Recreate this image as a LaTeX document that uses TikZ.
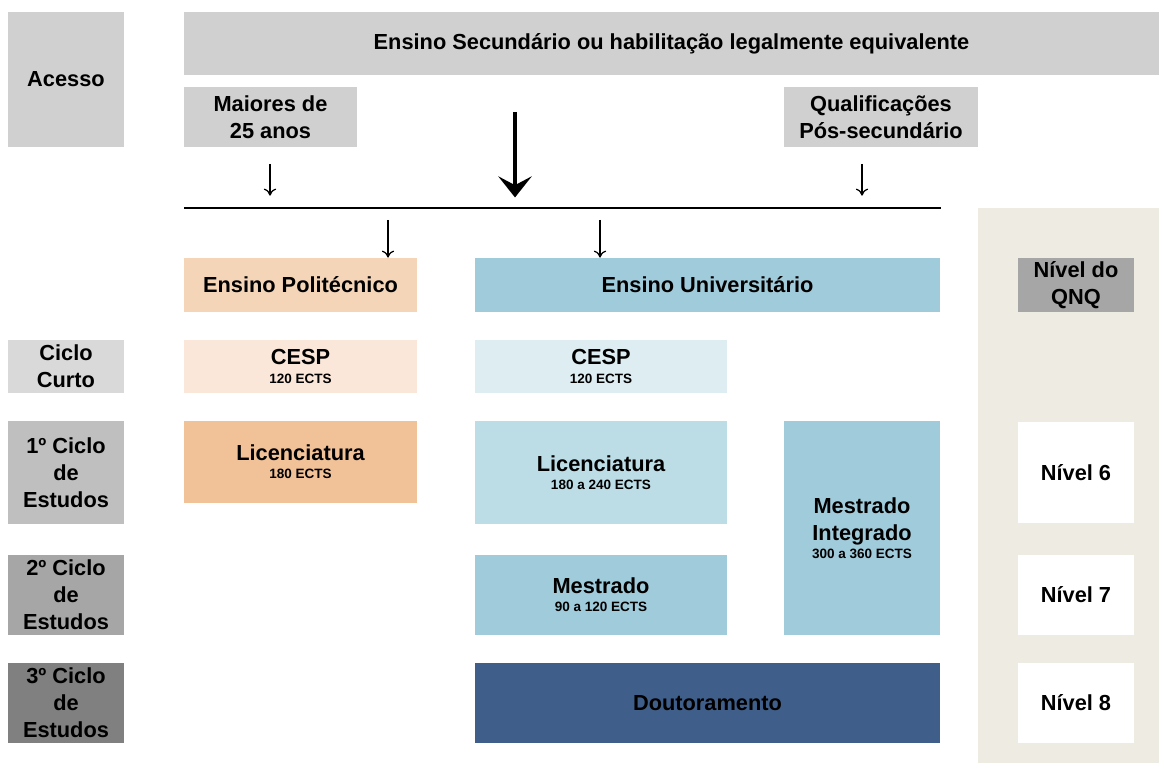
\documentclass[tikz,border=0pt]{standalone}
\usepackage{fontspec}
\setmainfont{Liberation Sans}
\usetikzlibrary{arrows.meta}

\definecolor{accgrey}{HTML}{D0D0D0}
\definecolor{cycA}{HTML}{D9D9D9}
\definecolor{cycB}{HTML}{BFBFBF}
\definecolor{cycC}{HTML}{A6A6A6}
\definecolor{cycD}{HTML}{808080}
\definecolor{poliHead}{HTML}{F5D5B8}
\definecolor{poliLight}{HTML}{FAE7D9}
\definecolor{poliDark}{HTML}{F1C197}
\definecolor{uniHead}{HTML}{A0CBDB}
\definecolor{uniLight}{HTML}{DEEDF2}
\definecolor{uniMid}{HTML}{BDDDE6}
\definecolor{uniDark}{HTML}{3F5F8A}
\definecolor{qnqPanel}{HTML}{EEEBE3}

\newcommand{\ects}[1]{\\[-5pt]{\fontsize{7.7}{9}\selectfont #1}}

\begin{document}
\begin{tikzpicture}
        [x=0.02cm, y=-0.02cm,
        blk/.style = {rectangle,
        inner sep=0pt,
        align=center,
        font=\bfseries\fontsize{12.4}{15.3}\selectfont},
        feed/.style = {line width=0.7pt, -{To[length=4pt,width=7pt]}},
        mainfeed/.style = {line width=2.5pt, -{Stealth[length=12pt,width=19pt,inset=5pt]}}]

        \useasboundingbox (0,0) rectangle (1159,763);

        % QNQ background panel
        \node[blk,fill=qnqPanel,minimum width=3.62cm,minimum height=11.1cm] (panel) at (1068.5,485.5) {};

        % Access
        \node[blk,fill=accgrey,minimum width=2.32cm,minimum height=2.7cm] (acesso) at (66,79.5) {Acesso};
        \node[blk,fill=accgrey,minimum width=19.5cm,minimum height=1.26cm] (sec) at (671.5,43.5) {Ensino Secundário ou habilitação legalmente equivalente};
        \node[blk,fill=accgrey,minimum width=3.46cm,minimum height=1.2cm] (maiores) at (270.5,117) {Maiores de\\25 anos};
        \node[blk,fill=accgrey,minimum width=3.88cm,minimum height=1.2cm] (qualif) at (881,117) {Qualificações\\Pós-secundário};

        % Entry line and arrows
        \coordinate (lineL) at (184,208);
        \coordinate (lineR) at (941,208);
        \draw[line width=1.2pt] (lineL) -- (lineR);

        \coordinate (inM) at (270,164);
        \coordinate (inS) at (515,112);
        \coordinate (inQ) at (862,164);
        \draw[feed] (inM) -- ([yshift=7pt]inM |- lineL);
        \draw[mainfeed] (inS) -- ([yshift=6pt]inS |- lineL);
        \draw[feed] (inQ) -- ([yshift=7pt]inQ |- lineL);

        % Subsystems
        \node[blk,fill=poliHead,minimum width=4.66cm,minimum height=1.08cm] (poli) at (300.5,285) {Ensino Politécnico};
        \node[blk,fill=uniHead,minimum width=9.3cm,minimum height=1.08cm] (univ) at (707.5,285) {Ensino Universitário};

        \coordinate (outP) at (388,220);
        \coordinate (outU) at (600,220);
        \draw[feed] (outP) -- (outP |- poli.north);
        \draw[feed] (outU) -- (outU |- univ.north);

        % Cycles
        \node[blk,fill=cycA,minimum width=2.32cm,minimum height=1.06cm] (curto) at (66,366.5) {Ciclo\\Curto};
        \node[blk,fill=cycB,minimum width=2.32cm,minimum height=2.06cm] (ciclo1) at (66,472.5) {1º Ciclo\\de\\Estudos};
        \node[blk,fill=cycC,minimum width=2.32cm,minimum height=1.6cm] (ciclo2) at (66,595) {2º Ciclo\\de\\Estudos};
        \node[blk,fill=cycD,minimum width=2.32cm,minimum height=1.6cm] (ciclo3) at (66,703) {3º Ciclo\\de\\Estudos};

        % Polytechnic degrees
        \node[blk,fill=poliLight,minimum width=4.66cm,minimum height=1.06cm] (cespP) at (300.5,366.5) {CESP\ects{120 ECTS}};
        \node[blk,fill=poliDark,minimum width=4.66cm,minimum height=1.64cm] (licP) at (300.5,462) {Licenciatura\ects{180 ECTS}};

        % University degrees
        \node[blk,fill=uniLight,minimum width=5.04cm,minimum height=1.06cm] (cespU) at (601,366.5) {CESP\ects{120 ECTS}};
        \node[blk,fill=uniMid,minimum width=5.04cm,minimum height=2.06cm] (licU) at (601,472.5) {Licenciatura\ects{180 a 240 ECTS}};
        \node[blk,fill=uniHead,minimum width=5.04cm,minimum height=1.6cm] (mest) at (601,595) {Mestrado\ects{90 a 120 ECTS}};
        \node[blk,fill=uniHead,minimum width=3.12cm,minimum height=4.28cm] (mi) at (862,528) {Mestrado\\Integrado\ects{300 a 360 ECTS}};
        \node[blk,fill=uniDark,minimum width=9.3cm,minimum height=1.6cm] (dout) at (707.5,703) {Doutoramento};

        % QNQ levels
        \node[blk,fill=cycC,minimum width=2.32cm,minimum height=1.08cm] (qnq) at (1076,285) {Nível do\\QNQ};
        \node[blk,fill=white,minimum width=2.32cm,minimum height=2.02cm] (n6) at (1076,472.5) {Nível 6};
        \node[blk,fill=white,minimum width=2.32cm,minimum height=1.6cm] (n7) at (1076,595) {Nível 7};
        \node[blk,fill=white,minimum width=2.32cm,minimum height=1.6cm] (n8) at (1076,703) {Nível 8};
    \end{tikzpicture}
\end{document}
